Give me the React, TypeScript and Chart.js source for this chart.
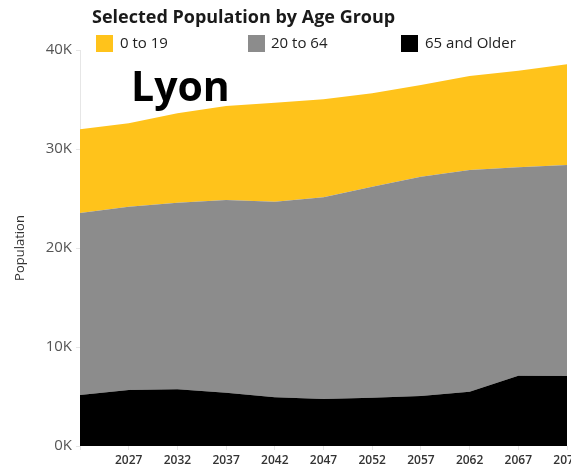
import React, { useEffect, useRef } from "react";
import { Chart, registerables } from "chart.js";

Chart.register(...registerables);

const years = ["2022", "2027", "2032", "2037", "2042", "2047", "2052", "2057", "2062", "2067", "2072"];
const age65Plus = [5150, 5660, 5720, 5390, 4920, 4750, 4880, 5050, 5490, 7100, 7070];
const age20to64 = [18390, 18510, 18860, 19460, 19760, 20370, 21310, 22150, 22390, 21050, 21310];
const age0to19 = [8460, 8430, 9020, 9490, 10000, 9900, 9440, 9260, 9490, 9760, 10170];
const yTicks = [0, 10000, 20000, 30000, 40000];

const seriesNames = ["0 to 19", "20 to 64", "65 and Older"];
const seriesColors = ["#FFC31B", "#8C8C8C", "#000000"];

const FONT = "'Open Sans', 'Noto Sans', sans-serif";

export default function App() {
  const ref = useRef<HTMLCanvasElement | null>(null);

  useEffect(() => {
    if (!ref.current) return;
    const chart = new Chart(ref.current, {
      type: "line",
      data: {
        labels: years,
        datasets: [
          {
            label: seriesNames[2],
            data: age65Plus,
            backgroundColor: seriesColors[2],
            borderWidth: 0,
            pointRadius: 0,
            fill: "origin",
          },
          {
            label: seriesNames[1],
            data: age20to64,
            backgroundColor: seriesColors[1],
            borderWidth: 0,
            pointRadius: 0,
            fill: "-1",
          },
          {
            label: seriesNames[0],
            data: age0to19,
            backgroundColor: seriesColors[0],
            borderWidth: 0,
            pointRadius: 0,
            fill: "-1",
          },
        ],
      },
      options: {
        responsive: false,
        animation: false,
        layout: { padding: { top: 50, right: 4, left: 0, bottom: 0 } },
        plugins: {
          legend: { display: false },
          tooltip: { enabled: false },
          title: { display: false },
        },
        elements: { line: { tension: 0 } },
        scales: {
          x: {
            type: "category",
            offset: false,
            grid: { display: true, drawOnChartArea: false, tickLength: 4, color: "#e6e6e6" },
            border: { display: false },
            ticks: {
              autoSkip: false,
              maxRotation: 0,
              padding: 3,
              color: "#333333",
              font: { family: FONT, size: 12, weight: 600 },
              callback: (_v: any, i: number) => (i === 0 ? "" : years[i]),
            },
            afterFit: (s: any) => {
              s.height = 29;
              s.paddingLeft = 0;
              s.paddingRight = 0;
            },
          },
          y: {
            stacked: true,
            min: 0,
            max: 40000,
            afterBuildTicks: (s: any) => {
              s.ticks = yTicks.map((v) => ({ value: v }));
            },
            grid: { display: true, drawOnChartArea: false, tickLength: 4, color: "#e6e6e6" },
            border: { display: true, color: "#e6e6e6" },
            ticks: {
              padding: 4,
              color: "#555555",
              font: { family: FONT, size: 15 },
              callback: (v: any) => Number(v) / 1000 + "K",
            },
            title: {
              display: true,
              text: "Population",
              color: "#333333",
              font: { family: FONT, size: 13 },
              padding: { top: 12, bottom: 0 },
            },
            afterFit: (s: any) => {
              s.width = 80;
              s.paddingTop = 0;
              s.paddingBottom = 0;
            },
          },
        },
      },
    });
    return () => chart.destroy();
  }, []);

  const legendItems = [
    { name: seriesNames[0], color: seriesColors[0], sq: 96, tx: 120 },
    { name: seriesNames[1], color: seriesColors[1], sq: 248, tx: 271 },
    { name: seriesNames[2], color: seriesColors[2], sq: 401, tx: 425 },
  ];

  return (
    <div
      style={{
        position: "fixed",
        left: 0,
        top: 0,
        width: 571,
        height: 475,
        overflow: "hidden",
        background: "#ffffff",
        fontFamily: FONT,
      }}
    >
      <canvas ref={ref} width={571} height={475} style={{ position: "absolute", left: 0, top: 0, display: "block" }} />
      <div
        style={{
          position: "absolute",
          left: 92,
          top: 7,
          fontSize: 18,
          lineHeight: "18px",
          fontWeight: 700,
          color: "#1a1a1a",
          whiteSpace: "nowrap",
        }}
      >
        Selected Population by Age Group
      </div>
      {legendItems.map((it) => (
        <React.Fragment key={it.name}>
          <div
            style={{
              position: "absolute",
              left: it.sq,
              top: 35,
              width: 17,
              height: 17,
              background: it.color,
            }}
          />
          <div
            style={{
              position: "absolute",
              left: it.tx,
              top: 35,
              fontSize: 15,
              lineHeight: "15px",
              color: "#222222",
              whiteSpace: "nowrap",
            }}
          >
            {it.name}
          </div>
        </React.Fragment>
      ))}
      <div
        style={{
          position: "absolute",
          left: 131,
          top: 65,
          fontSize: 41,
          lineHeight: "41px",
          fontWeight: 700,
          color: "#000000",
          whiteSpace: "nowrap",
        }}
      >
        Lyon
      </div>
    </div>
  );
}
